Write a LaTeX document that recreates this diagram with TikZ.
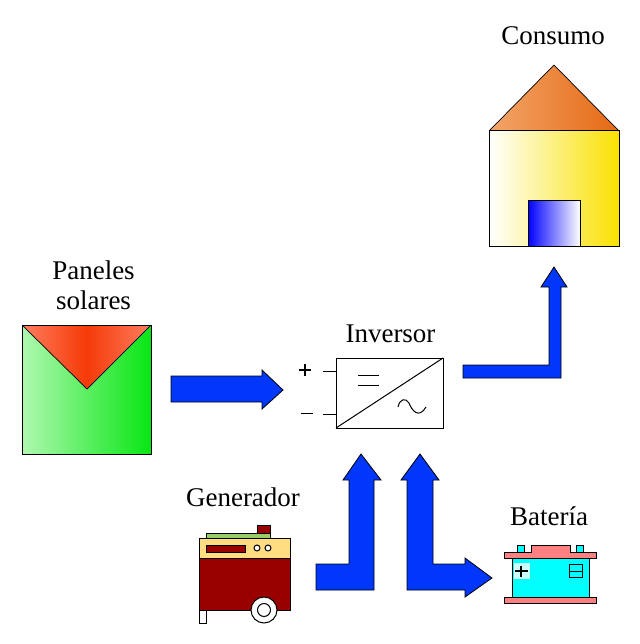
\documentclass[tikz,border=0pt]{standalone}
\usepackage{fontspec}
\setmainfont{Liberation Serif}
\tikzset{
  x=1pt,y=-1pt,
  lbl/.style={font=\fontsize{27}{30}\selectfont,align=center,inner sep=0pt,text=black},
  flow/.style={draw=black,line width=0.8pt,fill=flowblue,line join=miter},
  edge/.style={draw=black,line width=1pt},
  fineedge/.style={draw=black,line width=0.7pt}
}
\definecolor{flowblue}{RGB}{0,55,250}
\definecolor{genred}{RGB}{153,0,0}
\definecolor{genyel}{RGB}{255,221,128}
\definecolor{gengreen}{RGB}{153,204,102}
\definecolor{batred}{RGB}{255,128,128}
\definecolor{batcy}{RGB}{0,255,255}
\definecolor{wallr}{RGB}{250,225,0}
\definecolor{roofl}{RGB}{242,165,105}
\definecolor{roofr}{RGB}{230,105,20}
\definecolor{panell}{RGB}{175,248,175}
\definecolor{panelr}{RGB}{8,230,20}
\definecolor{redmid}{RGB}{245,58,8}
\definecolor{rededge}{RGB}{255,125,95}
\begin{document}
\begin{tikzpicture}
\useasboundingbox (0,0) rectangle (639,644);
% labels
\node[lbl] (lconsumo) at (553,36) {Consumo};
\node[lbl] (lpaneles) at (93.5,285) {Paneles\\solares};
\node[lbl] (linversor) at (390.5,334) {Inversor};
\node[lbl] (lgen) at (243,497) {Generador};
\node[lbl] (lbat) at (549,516) {Batería};
% house
\path[left color=white,right color=wallr] (489,131) rectangle (619,246);
\draw[edge] (489,131) rectangle (619,246);
\path[left color=blue,right color=white] (528,201) rectangle (580,246);
\draw[edge] (528,201) rectangle (580,246);
\path[left color=roofl,right color=roofr] (554,65) -- (619,131) -- (489,131) -- cycle;
\draw[fineedge] (554,65) -- (619,131);
\draw[fineedge] (554,65) -- (489,131);
\draw[edge] (489,131) -- (619,131);
% panel
\path[left color=panell,right color=panelr] (22,325) rectangle (151,454);
\draw[edge] (22,325) rectangle (151,454);
\path[left color=rededge,right color=rededge,middle color=redmid] (22,325) -- (151,325) -- (87,389) -- cycle;
\draw[fineedge] (22,325) -- (87,389) -- (151,325);
\draw[edge] (22,325) -- (151,325);
% inverter
\draw[edge] (336,358) rectangle (443,428);
\draw[edge] (336,428) -- (443,358);
\draw[edge] (323,371) -- (336,371);
\draw[edge] (323,414) -- (336,414);
\draw[edge] (358,375) -- (379,375);
\draw[edge] (358,385) -- (379,385);
\draw[edge] (398,407) .. controls (400,398) and (406,398) .. (409,403) .. controls (412,411) and (419,419) .. (426,407);
\draw[line width=1.3pt] (299,370) -- (311,370) (305,364) -- (305,376);
\draw[line width=1pt] (301,413) -- (313,413);
% arrows
\draw[flow] (171,376) -- (262,376) -- (262,370) -- (283,390) -- (262,409) -- (262,402) -- (171,402) -- cycle;
\draw[flow] (463,365) -- (549,365) -- (549,287) -- (541,287) -- (554,267) -- (567,287) -- (561,287) -- (561,378) -- (463,378) -- cycle;
\draw[flow] (316,564) -- (349,564) -- (349,480) -- (343,480) -- (361,454) -- (381,480) -- (374,480) -- (374,590) -- (316,590) -- cycle;
\draw[flow] (407,590) -- (407,480) -- (401,480) -- (420,454) -- (439,480) -- (433,480) -- (433,564) -- (465,564) -- (465,558) -- (492,578) -- (465,597) -- (465,590) -- cycle;
% generator
\draw[edge,fill=gengreen] (206,533) rectangle (270,538);
\draw[edge,fill=genred] (257,525) rectangle (270,533);
\draw[edge,fill=white] (199,610) rectangle (206,623);
\draw[edge,fill=genred] (199,558) rectangle (290,610);
\draw[edge,fill=genyel] (199,538) rectangle (290,558);
\draw[edge,fill=genred] (206,545) rectangle (245,552);
\draw[edge,fill=white] (257,548) circle (3);
\draw[edge,fill=white] (268,548) circle (3);
\draw[edge,fill=white] (264,610) circle (13);
\draw[edge,fill=white] (264,610) circle (6.5);
% battery
\draw[edge,fill=batcy] (517,545) rectangle (524,552);
\draw[edge,fill=batcy] (576,545) rectangle (583,552);
\draw[edge,fill=batcy] (512,558) rectangle (589,597);
\draw[edge,fill=batred] (504,552) -- (531,552) -- (531,545) -- (570,545) -- (570,552) -- (596,552) -- (596,558) -- (504,558) -- cycle;
\draw[edge,fill=batred] (504,597) rectangle (596,603);
\fill[white!80!batcy] (514,563) rectangle (530,579);
\draw[line width=1.3pt] (515,571) -- (528,571) (521,566) -- (521,577);
\draw[edge] (569,564) rectangle (582,577);
\draw[edge] (569,571) -- (582,571);
\end{tikzpicture}
\end{document}
